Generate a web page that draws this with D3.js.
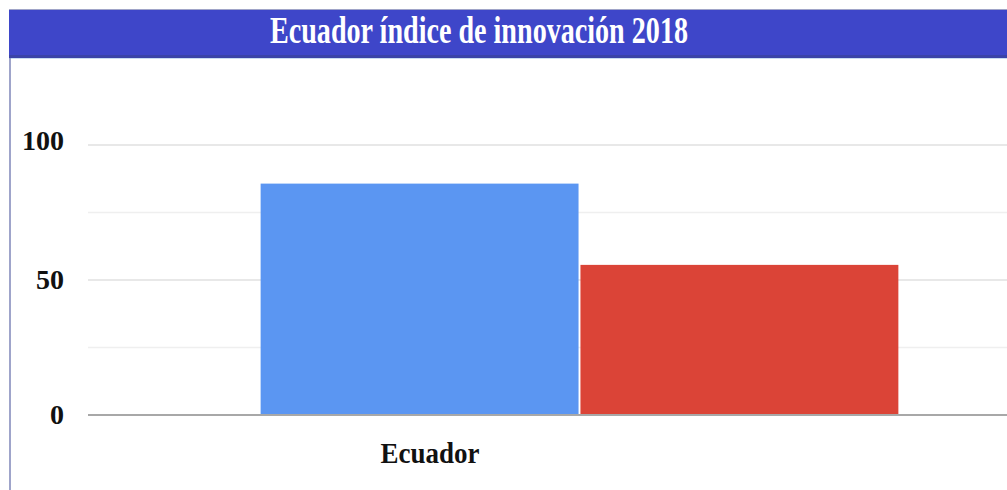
<!DOCTYPE html>
<html>
<head>
<meta charset="utf-8">
<script src="https://cdn.jsdelivr.net/npm/d3@7"></script>
<style>
  html, body { margin: 0; padding: 0; background: #fff; }
  svg { display: block; }
</style>
</head>
<body>
<svg id="chart" width="1007" height="490"></svg>
<script>
// Chart data
const title = "Ecuador índice de innovación 2018";
const categories = ["Ecuador"];
const seriesNames = ["Serie 1", "Serie 2"];
const seriesValues = [85.7, 55.6];
const seriesColors = ["#5b96f2", "#db4437"];
const majorTicks = [0, 50, 100];
const minorTicks = [25, 75];

const W = 1007, H = 490;
const svg = d3.select("#chart");

// Header band
const header = svg.append("g");
header.append("rect").attr("x", 9).attr("y", 9).attr("width", W - 9).attr("height", 1).attr("fill", "#a0a4c8");
header.append("rect").attr("x", 9).attr("y", 10).attr("width", W - 9).attr("height", 46).attr("fill", "#3e46c9");
header.append("rect").attr("x", 9).attr("y", 55).attr("width", W - 9).attr("height", 3).attr("fill", "#3a43a8");
header.append("rect").attr("x", 9).attr("y", 58).attr("width", W - 9).attr("height", 1).attr("fill", "#c9dcf2");
header.append("text")
  .attr("x", 479).attr("y", 43)
  .attr("text-anchor", "middle")
  .attr("font-family", "Liberation Serif, DejaVu Serif, serif")
  .attr("font-weight", "bold")
  .attr("font-size", 37)
  .attr("textLength", 418)
  .attr("lengthAdjust", "spacingAndGlyphs")
  .attr("fill", "#ffffff")
  .text(title);

// Left frame line
svg.append("line")
  .attr("x1", 10).attr("x2", 10).attr("y1", 58).attr("y2", H)
  .attr("stroke", "#7f86b8").attr("stroke-width", 1.5);

// Scales
const plotLeft = 88, plotRight = 1071;
const y = d3.scaleLinear().domain([0, 100]).range([415, 145]);
const x = d3.scaleBand().domain(categories).range([plotLeft, plotRight]).paddingInner(0).paddingOuter(0.2707);
const xs = d3.scaleBand().domain(seriesNames).range([0, x.bandwidth()]).paddingInner(0.006);

// Gridlines
const grid = svg.append("g");
grid.selectAll("line.minor").data(minorTicks).join("line")
  .attr("class", "minor")
  .attr("x1", plotLeft).attr("x2", W)
  .attr("y1", d => y(d)).attr("y2", d => y(d))
  .attr("stroke", "#efefef").attr("stroke-width", 1.5);
grid.selectAll("line.major").data(majorTicks.filter(d => d !== 0)).join("line")
  .attr("class", "major")
  .attr("x1", plotLeft).attr("x2", W)
  .attr("y1", d => y(d)).attr("y2", d => y(d))
  .attr("stroke", "#e0e0e0").attr("stroke-width", 1.5);

// Bars
svg.append("g").selectAll("rect").data(seriesValues).join("rect")
  .attr("x", (d, i) => x(categories[0]) + xs(seriesNames[i]))
  .attr("width", xs.bandwidth())
  .attr("y", d => y(d))
  .attr("height", d => y(0) - y(d))
  .attr("fill", (d, i) => seriesColors[i]);

// Baseline
svg.append("line")
  .attr("x1", plotLeft).attr("x2", W)
  .attr("y1", y(0)).attr("y2", y(0))
  .attr("stroke", "#a8a8a8").attr("stroke-width", 2);

// Y axis labels
const yAxis = d3.axisLeft(y).tickValues(majorTicks).tickSize(0).tickPadding(0).tickFormat(d3.format("d"));
const yg = svg.append("g").attr("transform", "translate(64,0)").call(yAxis);
yg.select(".domain").remove();
yg.selectAll("text")
  .attr("font-family", "Liberation Serif, DejaVu Serif, serif")
  .attr("font-weight", "bold")
  .attr("font-size", 28)
  .attr("fill", "#111")
  .attr("dy", "0.3em")
  .attr("transform", d => d === 100 ? "translate(0,-4)" : "translate(0,0)");

// X axis label
const xAxis = d3.axisBottom(x).tickSize(0).tickPadding(0);
const xg = svg.append("g").attr("transform", `translate(${430 - (x(categories[0]) + x.bandwidth() / 2)},463)`).call(xAxis);
xg.select(".domain").remove();
xg.selectAll("text")
  .attr("font-family", "Liberation Serif, DejaVu Serif, serif")
  .attr("font-weight", "bold")
  .attr("font-size", 29)
  .attr("fill", "#111")
  .attr("dy", 0)
  .attr("textLength", 99)
  .attr("lengthAdjust", "spacingAndGlyphs");
</script>
</body>
</html>
